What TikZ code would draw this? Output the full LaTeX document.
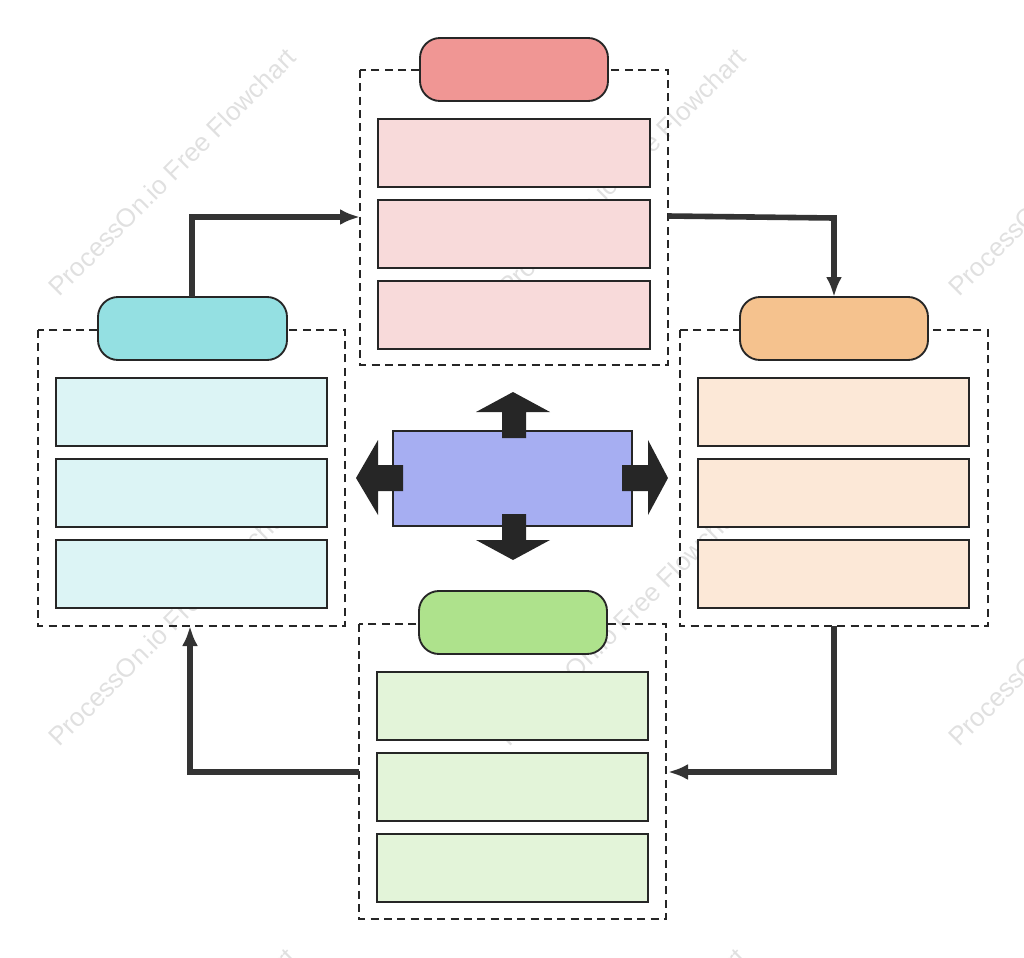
\documentclass[tikz,border=0pt]{standalone}
\usepackage{fontspec}
\setmainfont{Liberation Sans}
\usetikzlibrary{arrows.meta}
\begin{document}
\begin{tikzpicture}[x=0.75pt,y=-0.75pt,
  grp/.style={draw=black!85,dash pattern=on 6pt off 4pt,line width=1.4pt},
  pill/.style={draw=black!85,line width=1.4pt,rounded corners=15pt},
  row/.style={draw=black!85,line width=1.4pt},
  conn/.style={draw=black!80,line width=4.2pt,-{Latex[length=15pt,width=12pt]}},
  blk/.style={fill=black!85,draw=none},
  wm/.style={text=black!12,font=\fontsize{19.5}{20}\selectfont,rotate=45}]
\useasboundingbox (0,0) rectangle (1024,957);
\clip (0,0) rectangle (1024,957);
\definecolor{tp}{HTML}{F09694}\definecolor{tr}{HTML}{F8DADA}
\definecolor{lp}{HTML}{94E0E2}\definecolor{lr}{HTML}{DCF4F5}
\definecolor{rp}{HTML}{F5C28E}\definecolor{rr}{HTML}{FCE8D7}
\definecolor{bp}{HTML}{AEE28C}\definecolor{br}{HTML}{E3F4D9}
\definecolor{cc}{HTML}{A6AEF2}
\foreach \p/\q in {172/172,622/172,1072/172,172/622,622/622,1072/622,172/1072,622/1072}
  \node[wm] at (\p,\q) {ProcessOn.io Free Flowchart};
% groups
\draw[grp] (360,70) rectangle (668,365);
\draw[grp] (38,330) rectangle (345,626);
\draw[grp] (680,330) rectangle (988,626);
\draw[grp] (359,624) rectangle (666,919);
% pills
\draw[pill,fill=tp] (420,38) rectangle (608,101);
\draw[pill,fill=lp] (98,297) rectangle (287,360);
\draw[pill,fill=rp] (740,297) rectangle (928,360);
\draw[pill,fill=bp] (419,591) rectangle (607,654);
\coordinate (lpt) at (192,297);
\coordinate (rpt) at (834,297);
% rows
\foreach \a/\b in {119/187,200/268,281/349} \draw[row,fill=tr] (378,\a) rectangle (650,\b);
\foreach \a/\b in {378/446,459/527,540/608} {
  \draw[row,fill=lr] (56,\a) rectangle (327,\b);
  \draw[row,fill=rr] (698,\a) rectangle (969,\b);}
\foreach \a/\b in {672/740,753/821,834/902} \draw[row,fill=br] (377,\a) rectangle (648,\b);
% center
\draw[row,fill=cc] (393,431) rectangle (632,526);
\fill[blk] (502,438)--(502,412)--(476,412)--(513,392)--(550,412)--(526,412)--(526,438)--cycle;
\fill[blk] (502,514)--(502,540)--(476,540)--(513,560)--(550,540)--(526,540)--(526,514)--cycle;
\fill[blk] (403,465)--(378,465)--(378,440)--(356,478)--(378,515)--(378,491)--(403,491)--cycle;
\fill[blk] (622,465)--(648,465)--(648,440)--(668,478)--(648,515)--(648,491)--(622,491)--cycle;
% connectors
\coordinate (a1) at (360,217); \coordinate (a2) at (668,216);
\coordinate (a3) at (834,626); \coordinate (a4) at (668,772);
\coordinate (a5) at (359,772); \coordinate (a6) at (190,626);
\draw[conn] (lpt) |- (a1);
\draw[conn] (a2) -- (834,218) -- (rpt);
\draw[conn] (a3) |- (a4);
\draw[conn] (a5) -| (a6);
\end{tikzpicture}
\end{document}
